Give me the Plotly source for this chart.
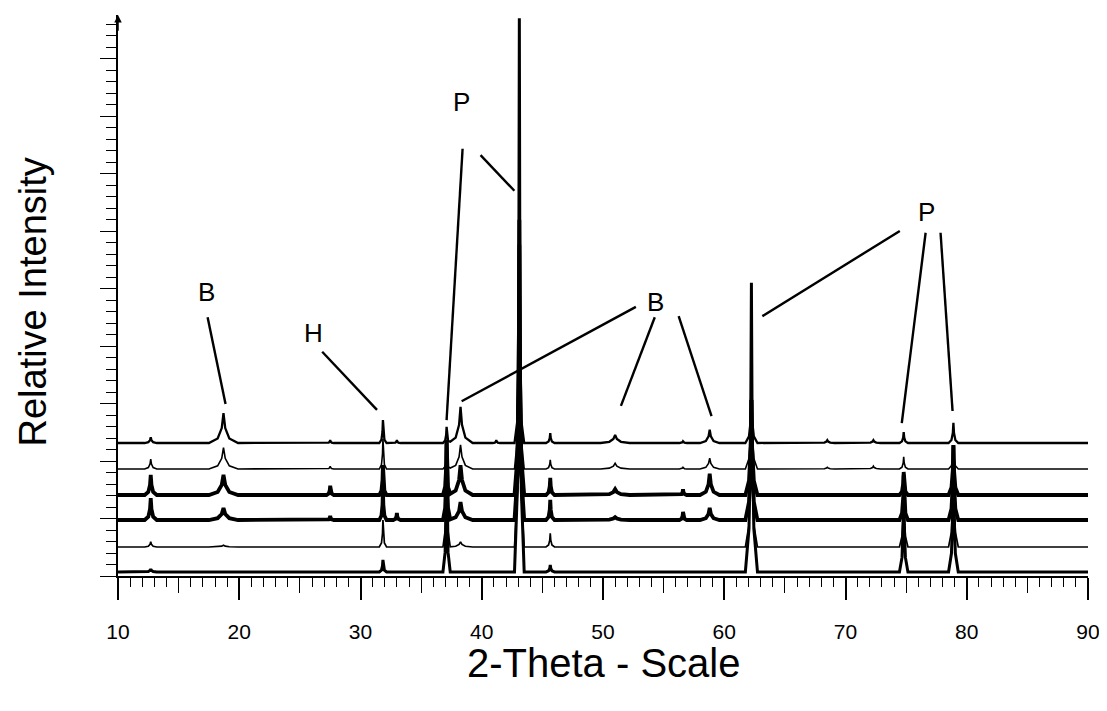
import numpy as np
import plotly.graph_objects as go

# ---------------- data ----------------
two_theta_range = [10, 90]
intensity_range = [0, 9.757]

peak_positions = [12.7, 18.7, 27.5, 31.85, 33.0, 37.1, 38.25, 41.2, 43.1, 45.65,
                  51.0, 56.6, 58.8, 62.24, 68.5, 72.3, 74.8, 78.9]
peak_halfwidths = [0.5, 1.2, 0.3, 0.3, 0.3, 0.3, 1.0, 0.3, 0.4, 0.35,
                   1.2, 0.3, 0.8, 0.5, 0.6, 0.6, 0.35, 0.4]

# baseline offset of each stacked pattern (top to bottom)
pattern_offsets = [2.313, 1.861, 1.409, 0.974, 0.504, 0.07]

# peak heights above each pattern's baseline (same order as peak_positions)
heights_1 = [0.10, 0.52, 0.05, 0.40, 0.05, 0.28, 0.63, 0.05, 2.61, 0.17,
             0.14, 0.03, 0.23, 0.78, 0.05, 0.05, 0.19, 0.35]
heights_2 = [0.17, 0.37, 0.05, 0.52, 0.00, 0.30, 0.42, 0.00, 3.48, 0.16,
             0.10, 0.03, 0.19, 1.22, 0.03, 0.05, 0.21, 0.38]
heights_3 = [0.35, 0.35, 0.16, 0.52, 0.00, 0.96, 0.52, 0.00, 4.35, 0.30,
             0.10, 0.10, 0.37, 1.65, 0.00, 0.00, 0.40, 0.87]
heights_4 = [0.38, 0.21, 0.07, 0.52, 0.12, 1.39, 0.31, 0.00, 5.22, 0.35,
             0.05, 0.14, 0.21, 2.09, 0.00, 0.00, 0.78, 1.30]
heights_5 = [0.09, 0.03, 0.00, 0.47, 0.00, 1.86, 0.09, 0.00, 6.12, 0.24,
             0.00, 0.00, 0.00, 2.56, 0.00, 0.00, 1.25, 1.74]
heights_6 = [0.05, 0.00, 0.00, 0.21, 0.00, 2.30, 0.00, 0.00, 9.63, 0.12,
             0.00, 0.00, 0.00, 5.03, 0.00, 0.00, 1.69, 2.17]
pattern_heights = [heights_1, heights_2, heights_3, heights_4, heights_5, heights_6]

# phase labels: text, x (2-theta), y (intensity)
label_texts = ["B", "H", "P", "B", "P"]
label_x = [17.31, 26.10, 38.34, 54.35, 76.69]
label_y = [4.94, 4.23, 8.24, 4.77, 6.33]

# leader lines: x0, y0, x1, y1
leader_x0 = [17.39, 26.84, 38.42, 39.90, 52.71, 54.27, 56.24, 74.48, 76.61, 77.84]
leader_y0 = [4.50, 3.90, 7.43, 7.32, 4.68, 4.50, 4.52, 6.00, 5.97, 5.97]
leader_x1 = [18.87, 31.36, 37.10, 42.69, 38.34, 51.48, 58.95, 63.14, 74.64, 78.83]
leader_y1 = [2.99, 2.89, 2.71, 6.70, 3.04, 2.96, 2.78, 4.52, 2.66, 2.87]

x_major_ticks = [10, 20, 30, 40, 50, 60, 70, 80, 90]
x_mid_ticks = [15, 25, 35, 45, 55, 65, 75, 85]

# ---------------- styling ----------------
line_widths = [2.3, 1.6, 3.8, 3.8, 1.7, 3.0]
shape_offsets = np.array([-1.0, -0.4, -0.12, 0.0, 0.12, 0.4, 1.0])
shape_fracs = np.array([0.0, 0.15, 0.5, 1.0, 0.5, 0.15, 0.0])
FONT = "Liberation Sans, Arial, sans-serif"

fig = go.Figure()

vertex_x = [two_theta_range[0], two_theta_range[1]]
for p, w in zip(peak_positions, peak_halfwidths):
    vertex_x.extend(list(p + w * shape_offsets))
vertex_x = np.unique(np.array(vertex_x))

for base, heights, lw in zip(pattern_offsets, pattern_heights, line_widths):
    y = np.full(vertex_x.shape, base)
    for p, w, h in zip(peak_positions, peak_halfwidths, heights):
        if h > 0:
            y = y + np.interp(vertex_x, p + w * shape_offsets, h * shape_fracs,
                              left=0.0, right=0.0)
    fig.add_trace(go.Scatter(x=vertex_x, y=y, mode="lines",
                             line=dict(color="black", width=lw),
                             showlegend=False, hoverinfo="skip"))

# helper trace to make the secondary tick axis exist
fig.add_trace(go.Scatter(x=[two_theta_range[0]], y=[pattern_offsets[-1]], xaxis="x2",
                         mode="markers", marker=dict(size=0.1, color="rgba(0,0,0,0)"),
                         showlegend=False, hoverinfo="skip"))

for x0, y0, x1, y1 in zip(leader_x0, leader_y0, leader_x1, leader_y1):
    fig.add_shape(type="line", x0=x0, y0=y0, x1=x1, y1=y1, xref="x", yref="y",
                  line=dict(color="black", width=2.4))

for t, x, y in zip(label_texts, label_x, label_y):
    fig.add_annotation(x=x, y=y, text=t, showarrow=False, xref="x", yref="y",
                       font=dict(family=FONT, size=26, color="black"))

# y-axis arrow head
fig.add_annotation(x=two_theta_range[0], y=intensity_range[1], ax=two_theta_range[0],
                   ay=intensity_range[1] - 0.3, xref="x", yref="y", axref="x", ayref="y",
                   text="", showarrow=True, arrowhead=2, arrowsize=1, arrowwidth=1.5,
                   arrowcolor="black")

fig.add_annotation(x=0.5, y=-0.155, xref="paper", yref="paper", text="2-Theta - Scale",
                   showarrow=False, font=dict(family=FONT, size=40, color="black"),
                   xanchor="center", yanchor="middle")
fig.add_annotation(x=-0.0873, y=0.488, xref="paper", yref="paper", text="Relative Intensity",
                   showarrow=False, textangle=-90,
                   font=dict(family=FONT, size=38, color="black"),
                   xanchor="center", yanchor="middle")

fig.update_layout(
    width=1099, height=695,
    margin=dict(l=110, r=15, t=7, b=127),
    paper_bgcolor="white", plot_bgcolor="white",
    font=dict(family=FONT, color="black"),
    xaxis=dict(range=two_theta_range, tickvals=x_major_ticks,
               ticktext=[str(v) for v in x_major_ticks],
               showline=True, linecolor="black", linewidth=1.5,
               ticks="outside", ticklen=22, tickwidth=1.5, tickcolor="black",
               tickfont=dict(family=FONT, size=21, color="black"),
               ticklabelstandoff=14,
               minor=dict(dtick=1, tick0=10, ticks="outside", ticklen=9, tickwidth=1.2,
                          tickcolor="black", showgrid=False),
               showgrid=False, zeroline=False),
    xaxis2=dict(range=two_theta_range, overlaying="x", anchor="y", side="bottom",
                tickvals=x_mid_ticks, showticklabels=False, ticks="outside",
                ticklen=16, tickwidth=1.3, tickcolor="black",
                showline=False, showgrid=False, zeroline=False),
    yaxis=dict(range=intensity_range, showline=True, linecolor="black", linewidth=1.5,
               ticks="outside", ticklen=16, tickwidth=1.3, tickcolor="black", dtick=1, tick0=0,
               showticklabels=False,
               minor=dict(dtick=0.2, tick0=0, ticks="outside", ticklen=10, tickwidth=1.1,
                          tickcolor="black", showgrid=False),
               showgrid=False, zeroline=False),
)

fig.write_html("out.html")
